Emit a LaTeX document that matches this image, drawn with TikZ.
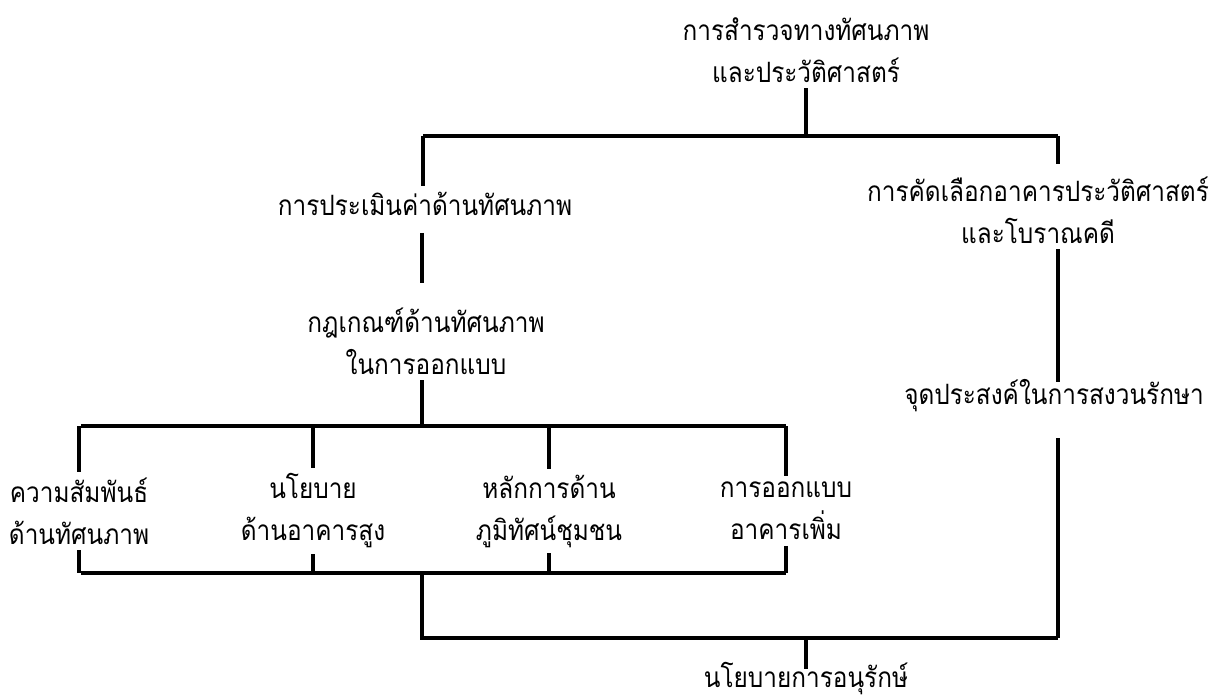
\documentclass[tikz,border=0pt]{standalone}
\usepackage{fontspec}
\newfontfamily\thaifont[Script=Thai,FakeStretch=0.87]{Loma}
\begin{document}
\begin{tikzpicture}[x=1pt,y=-1pt,
  lbl/.style={font=\thaifont\fontsize{28}{42}\selectfont, align=center, inner sep=0pt, outer sep=6pt},
  conn/.style={line width=3.2pt}]
\useasboundingbox[fill=white] (0,0) rectangle (1217,698);
% nodes
\node[lbl] (top) at (806,50) {การสำรวจทางทัศนภาพ\\และประวัติศาสตร์};
\node[lbl] (eval) at (425,204) {การประเมินค่าด้านทัศนภาพ};
\node[lbl] (select) at (1038,210) {การคัดเลือกอาคารประวัติศาสตร์\\และโบราณคดี};
\node[lbl] (rule) at (426,341) {กฎเกณฑ์ด้านทัศนภาพ\\ในการออกแบบ};
\node[lbl] (purpose) at (1054,396) {จุดประสงค์ในการสงวนรักษา};
\node[lbl] (b1) at (79,511) {ความสัมพันธ์\\ด้านทัศนภาพ};
\node[lbl] (b2) at (313,511) {นโยบาย\\ด้านอาคารสูง};
\node[lbl] (b3) at (549,511) {หลักการด้าน\\ภูมิทัศน์ชุมชน};
\node[lbl] (b4) at (786,511) {การออกแบบ\\อาคารเพิ่ม};
\node[lbl] (policy) at (806,679) {นโยบายการอนุรักษ์};
% junctions
\coordinate (j0) at (806,136);
\coordinate (jL) at (423,136);
\coordinate (jR) at (1058,136);
\coordinate (k0) at (422,426);
\coordinate (kL) at (81,426);
\coordinate (kR) at (786,426);
\coordinate (mL) at (81,573);
\coordinate (mR) at (786,573);
\coordinate (m0) at (422,573);
\coordinate (nL) at (422,638);
\coordinate (jB) at (1058,638);
\coordinate (n0) at (806,638);
% connectors
\draw[conn] (top.south) -- (j0);
\draw[conn] (jL) -- (jR);
\draw[conn] (jL) -- (eval.north -| jL);
\draw[conn, shorten >=7pt] (jR) -- (select.north -| jR);
\draw[conn, shorten <=11pt, shorten >=19pt] (eval.south -| k0) -- (rule.north -| k0);
\draw[conn, shorten >=-8pt] (select.south -| jR) -- (purpose.north -| jR);
\draw[conn, shorten <=20pt] (purpose.south -| jR) -- (jB);
\draw[conn] (rule.south -| k0) -- (k0);
\draw[conn] (kL) -- (kR);
\foreach \b in {b1,b2,b3,b4}{
  \draw[conn] (\b.north |- kL) -- (\b.north);
  \draw[conn] (\b.south) -- (\b.south |- mL);
}
\draw[conn] (mL) -- (mR);
\draw[conn] (m0) -- (nL) -- (jB);
\draw[conn, shorten >=-12pt] (n0) -- (policy.north);
\end{tikzpicture}
\end{document}
